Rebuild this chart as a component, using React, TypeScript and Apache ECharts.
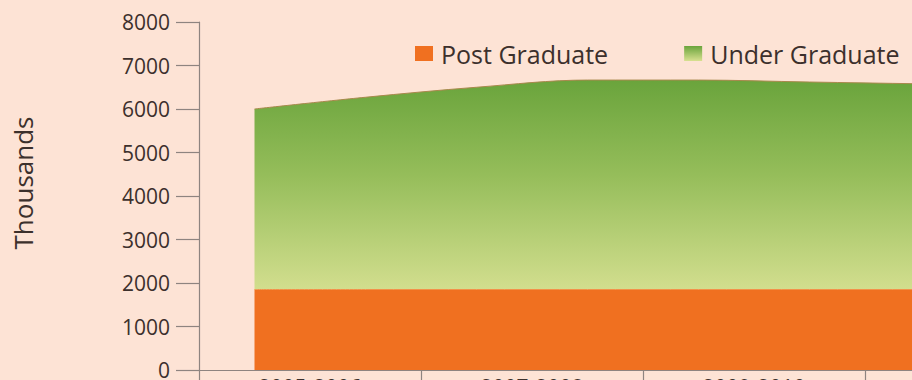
import React, { useEffect, useRef } from "react";
import * as echarts from "echarts";

const categories = ["2005", "2006", "2007", "2008", "2009", "2010", "2011", "2012"];
const periodLabels = ["2005-2006", "2007-2008", "2009-2010", "2011-2012"];
const postGraduate = [1850, 1850, 1850, 1850, 1850, 1850, 1850, 1850];
const underGraduate = [4150, 4420, 4650, 4815, 4815, 4770, 4730, 4700];
const yTicks = { min: 0, max: 8000, interval: 1000 };

const FONT = "Open Sans";
const AXIS = "#8e8480";
const TEXT = "#3c302c";

export default function App() {
  const ref = useRef<HTMLDivElement>(null);
  useEffect(() => {
    if (!ref.current) return;
    const chart = echarts.init(ref.current, undefined, { renderer: "svg" });
    const green = new echarts.graphic.LinearGradient(0, 0, 0, 1, [
      { offset: 0, color: "#6aa43c" },
      { offset: 0.45, color: "#95bd5a" },
      { offset: 1, color: "#d2de8e" },
    ]);
    const greenIcon = new echarts.graphic.LinearGradient(0, 0, 0, 1, [
      { offset: 0, color: "#6aa43c" },
      { offset: 1, color: "#d8e090" },
    ]);
    chart.setOption({
      animation: false,
      backgroundColor: "#fde3d5",
      textStyle: { fontFamily: FONT },
      grid: { left: 199, top: 22, right: 13, bottom: 50, containLabel: false },
      legend: {
        left: 410,
        top: 36,
        icon: "rect",
        itemWidth: 18,
        itemHeight: 15,
        itemGap: 76,
        textStyle: { fontFamily: FONT, fontSize: 25, color: TEXT, padding: [0, 0, 0, 3] },
        data: [
          { name: "Post Graduate", itemStyle: { color: "#f07020" } },
          { name: "Under Graduate", itemStyle: { color: greenIcon } },
        ],
      },
      graphic: [
        {
          type: "text",
          x: 23,
          y: 183,
          rotation: Math.PI / 2,
          style: {
            text: "Thousands",
            fontFamily: FONT,
            fontSize: 26,
            fill: TEXT,
            align: "center",
            verticalAlign: "middle",
          },
        },
      ],
      xAxis: [
        {
          type: "category",
          data: categories,
          boundaryGap: true,
          position: "bottom",
          axisLine: { show: true, lineStyle: { color: AXIS, width: 1.2 } },
          axisTick: { show: true, interval: 1, length: 12, lineStyle: { color: AXIS, width: 1.2 } },
          axisLabel: { show: false },
          splitLine: { show: false },
        },
        {
          type: "category",
          data: periodLabels,
          boundaryGap: true,
          position: "bottom",
          axisLine: { show: false },
          axisTick: { show: false },
          axisLabel: { show: true, margin: 6, fontSize: 21, color: TEXT, fontFamily: FONT },
          splitLine: { show: false },
        },
      ],
      yAxis: {
        type: "value",
        min: yTicks.min,
        max: yTicks.max,
        interval: yTicks.interval,
        axisLine: { show: true, lineStyle: { color: AXIS, width: 1.2 } },
        axisTick: { show: true, inside: false, length: 23, lineStyle: { color: AXIS, width: 1.2 } },
        axisLabel: {
          margin: 29,
          fontSize: 21,
          color: TEXT,
          fontFamily: FONT,
          formatter: (v: number) => String(v),
        },
        splitLine: { show: false },
      },
      series: [
        {
          name: "Post Graduate",
          type: "line",
          stack: "total",
          data: postGraduate,
          symbol: "none",
          smooth: 0.35,
          lineStyle: { color: "#f2924a", width: 1 },
          itemStyle: { color: "#f07020" },
          areaStyle: { color: "#f07020", opacity: 1 },
        },
        {
          name: "Under Graduate",
          type: "line",
          stack: "total",
          data: underGraduate,
          symbol: "none",
          smooth: 0.35,
          lineStyle: { color: "#a8884c", width: 1 },
          itemStyle: { color: "#6aa43c" },
          areaStyle: { color: green, opacity: 1 },
        },
      ],
    });
    return () => chart.dispose();
  }, []);
  return (
    <div
      style={{
        position: "fixed",
        left: 0,
        top: 0,
        width: 912,
        height: 380,
        overflow: "hidden",
        background: "#fde3d5",
      }}
    >
      <div ref={ref} style={{ width: 1100, height: 420 }} />
    </div>
  );
}
